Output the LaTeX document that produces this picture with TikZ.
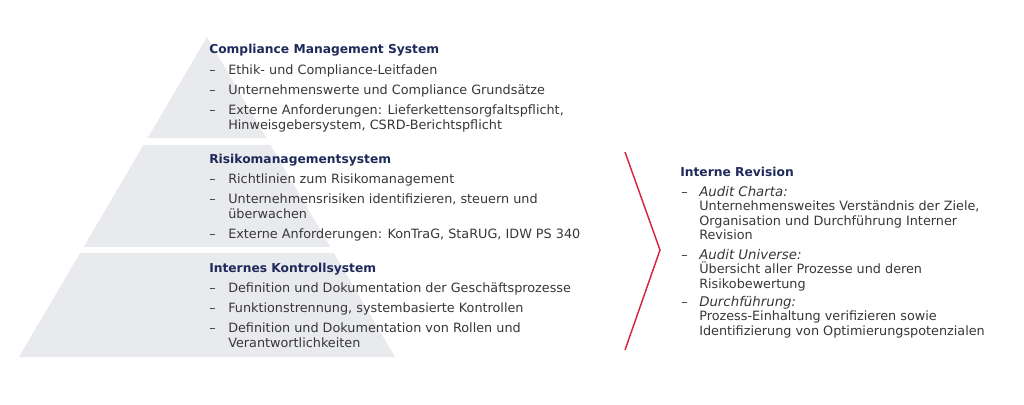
\documentclass[tikz,border=0pt]{standalone}
\usepackage{fontspec}
\setmainfont{DejaVu Sans}
\usetikzlibrary{calc}
\definecolor{pyrgrey}{RGB}{233,234,238}
\definecolor{navy}{RGB}{30,42,90}
\definecolor{bodytext}{RGB}{55,55,55}
\definecolor{revred}{RGB}{215,38,61}

\tikzset{
  head/.style={anchor=base west,inner sep=0pt,font=\fontsize{9.2}{12}\selectfont\bfseries,text=navy},
  txt/.style={anchor=base west,inner sep=0pt,text=bodytext},
  layer/.style={fill=pyrgrey}
}

\begin{document}
\begin{tikzpicture}[x=0.75pt,y=-0.75pt,font=\fontsize{9.6}{12}\selectfont]
\useasboundingbox (0,0) rectangle (1024,404);

%Pyramide
\coordinate (apex) at (207,37);
\coordinate (bl) at (19,357);
\coordinate (br) at (395,357);

\fill[layer] (apex) -- ($(apex)!.316!(br)$) -- ($(apex)!.316!(bl)$) -- cycle;
\fill[layer] ($(apex)!.337!(bl)$) -- ($(apex)!.337!(br)$) -- ($(apex)!.656!(br)$) -- ($(apex)!.656!(bl)$) -- cycle;
\fill[layer] ($(apex)!.675!(bl)$) -- ($(apex)!.675!(br)$) -- (br) -- (bl) -- cycle;

%Compliance Management System
\node[head] (cms) at (209,53) {Compliance Management System};
\node[txt] (cmsd1) at (209,74) {–};
\node[txt] (cms1) at (228,74) {Ethik- und Compliance-Leitfaden};
\node[txt] (cmsd2) at (209,94) {–};
\node[txt] (cms2) at (228,94) {Unternehmenswerte und Compliance Grundsätze};
\node[txt] (cmsd3) at (209,114) {–};
\node[txt] (cms3) at (228,114) {Externe Anforderungen: Lieferkettensorgfaltspflicht,};
\node[txt] (cms3b) at (228,129) {Hinweisgebersystem, CSRD-Berichtspflicht};

%Risikomanagementsystem
\node[head] (rms) at (209,163) {Risikomanagementsystem};
\node[txt] (rmsd1) at (209,183) {–};
\node[txt] (rms1) at (228,183) {Richtlinien zum Risikomanagement};
\node[txt] (rmsd2) at (209,203.5) {–};
\node[txt] (rms2) at (228,203.5) {Unternehmensrisiken identifizieren, steuern und};
\node[txt] (rms2b) at (228,218) {überwachen};
\node[txt] (rmsd3) at (209,238) {–};
\node[txt] (rms3) at (228,238) {Externe Anforderungen: KonTraG, StaRUG, IDW PS 340};

%Internes Kontrollsystem
\node[head] (iks) at (209,272) {Internes Kontrollsystem};
\node[txt] (iksd1) at (209,292) {–};
\node[txt] (iks1) at (228,292) {Definition und Dokumentation der Geschäftsprozesse};
\node[txt] (iksd2) at (209,312) {–};
\node[txt] (iks2) at (228,312) {Funktionstrennung, systembasierte Kontrollen};
\node[txt] (iksd3) at (209,332.5) {–};
\node[txt] (iks3) at (228,332.5) {Definition und Dokumentation von Rollen und};
\node[txt] (iks3b) at (228,347) {Verantwortlichkeiten};

%Klammer
\coordinate (k1) at (625,152);
\coordinate (k2) at (660,250);
\coordinate (k3) at (625,350);
\draw[revred,line width=1.1pt] (k1) -- (k2) -- (k3);

%Interne Revision
\node[head] (ir) at (680,176) {Interne Revision};
\node[txt] (ird1) at (681,196) {–};
\node[txt,font=\itshape] (ir1) at (699,196) {Audit Charta:};
\node[txt] (ir1b) at (699,210.5) {Unternehmensweites Verständnis der Ziele,};
\node[txt] (ir1c) at (699,225) {Organisation und Durchführung Interner};
\node[txt] (ir1d) at (699,239.5) {Revision};
\node[txt] (ird2) at (681,259) {–};
\node[txt,font=\itshape] (ir2) at (699,259) {Audit Universe:};
\node[txt] (ir2b) at (699,273.5) {Übersicht aller Prozesse und deren};
\node[txt] (ir2c) at (699,288) {Risikobewertung};
\node[txt] (ird3) at (681,306) {–};
\node[txt,font=\itshape] (ir3) at (699,306) {Durchführung:};
\node[txt] (ir3b) at (699,320.5) {Prozess-Einhaltung verifizieren sowie};
\node[txt] (ir3c) at (699,335) {Identifizierung von Optimierungspotenzialen};

\end{tikzpicture}
\end{document}
